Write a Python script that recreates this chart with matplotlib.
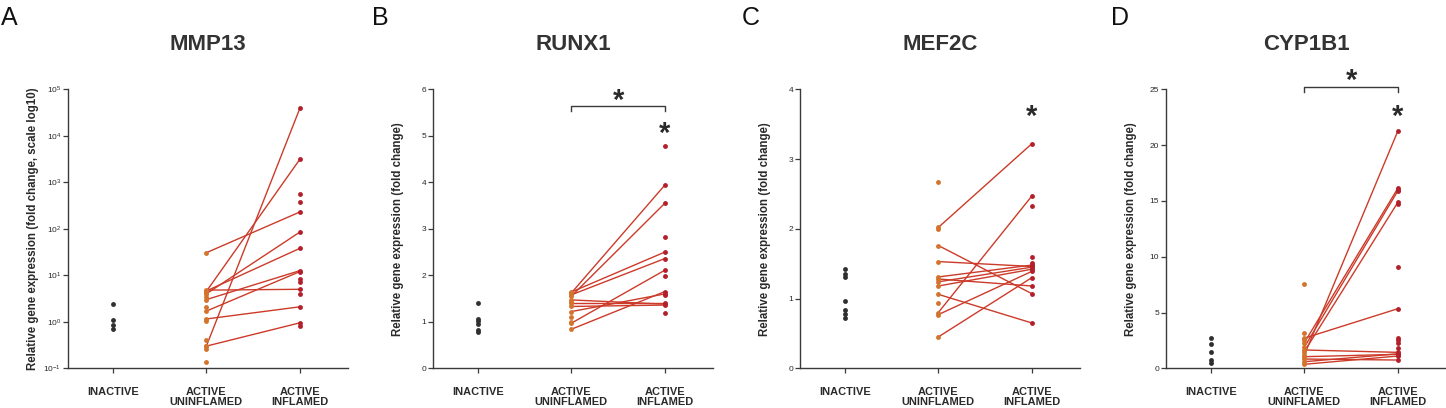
import matplotlib
matplotlib.use("Agg")
import matplotlib.pyplot as plt
from matplotlib.ticker import LogLocator, NullLocator, LogFormatterSciNotation

plt.rcParams['font.family'] = ['Liberation Sans', 'DejaVu Sans']
plt.rcParams['mathtext.default'] = 'regular'

categories = ["INACTIVE", "ACTIVE\nUNINFLAMED", "ACTIVE\nINFLAMED"]
genes = ["MMP13", "RUNX1", "MEF2C", "CYP1B1"]
panel_letters = ["A", "B", "C", "D"]

# ---- MMP13 ----
mmp13_inactive = [2.4, 1.09, 0.85, 0.69]
mmp13_unin_paired = [30.6, 4.5, 4.6, 4.0, 4.8, 3.0, 1.7, 1.15, 0.30, 0.30]
mmp13_infl_paired = [230, 3126, 38, 85, 5.0, 12.6, 12.0, 2.1, 0.95, 39000]
mmp13_unin_only = [4.2, 3.4, 2.1, 1.05, 0.40, 0.26, 0.14]
mmp13_infl_only = [560, 370, 8.2, 7.3, 4.0, 0.83]

# ---- RUNX1 ----
runx1_inactive = [1.40, 1.07, 1.02, 0.95, 0.83, 0.79]
runx1_unin_paired = [1.62, 1.55, 1.64, 1.58, 0.97, 0.84, 1.22, 1.47, 1.40, 1.33]
runx1_infl_paired = [3.94, 3.55, 2.50, 2.36, 2.11, 1.65, 1.60, 1.38, 1.40, 1.36]
runx1_unin_only = [1.11, 0.99, 1.43]
runx1_infl_only = [4.79, 2.83, 1.98, 1.58, 1.18]

# ---- MEF2C ----
mef2c_inactive = [1.42, 1.35, 1.31, 0.97, 0.84, 0.78, 0.72]
mef2c_unin_paired = [2.02, 0.80, 1.76, 1.53, 1.31, 1.28, 1.24, 1.18, 1.06, 0.77, 0.45]
mef2c_infl_paired = [3.22, 2.47, 1.07, 1.46, 1.48, 1.18, 1.45, 1.42, 0.65, 1.39, 1.30]
mef2c_unin_only = [2.67, 2.00, 0.94]
mef2c_infl_only = [2.33, 1.59, 1.51]

# ---- CYP1B1 ----
cyp1b1_inactive = [2.75, 2.15, 1.45, 0.75, 0.50]
cyp1b1_unin_paired = [1.2, 2.3, 1.9, 1.5, 2.7, 1.64, 1.04, 0.59, 0.36, 0.83]
cyp1b1_infl_paired = [21.26, 16.13, 15.9, 14.87, 5.34, 1.43, 1.25, 1.3, 1.10, 0.74]
cyp1b1_unin_only = [7.52, 3.13, 2.54]
cyp1b1_infl_only = [9.05, 2.74, 2.54, 2.29, 1.85, 16.0, 14.75]

ylabels = ["Relative gene expression (fold change, scale log10)",
           "Relative gene expression (fold change)",
           "Relative gene expression (fold change)",
           "Relative gene expression (fold change)"]

datasets = [
    (mmp13_inactive, mmp13_unin_paired, mmp13_infl_paired, mmp13_unin_only, mmp13_infl_only),
    (runx1_inactive, runx1_unin_paired, runx1_infl_paired, runx1_unin_only, runx1_infl_only),
    (mef2c_inactive, mef2c_unin_paired, mef2c_infl_paired, mef2c_unin_only, mef2c_infl_only),
    (cyp1b1_inactive, cyp1b1_unin_paired, cyp1b1_infl_paired, cyp1b1_unin_only, cyp1b1_infl_only),
]

C_INACT = "#2f2f2f"
C_UNIN = "#d4732c"
C_INFL = "#b3202c"
C_LINE = "#cc3b29"
C_AX = "#3a3a3a"
C_TXT = "#2a2a2a"

W, H = 1446, 408
fig = plt.figure(figsize=(W / 100, H / 100), dpi=100)

ax_left_px = [68, 433, 800, 1166]
letter_px = [1, 372, 742, 1111]
ax_top_px, ax_bot_px, ax_w_px = 89.3, 368.3, 280

for i in range(4):
    l = ax_left_px[i] / W
    b = (H - ax_bot_px) / H
    ax = fig.add_axes([l, b, ax_w_px / W, (ax_bot_px - ax_top_px) / H])
    inact, up, ip, uo, io = datasets[i]
    # paired lines
    for u, v in zip(up, ip):
        ax.plot([1, 2], [u, v], color=C_LINE, lw=1.0, zorder=2, solid_capstyle='round')
    ms = 3.5
    ax.plot([0] * len(inact), inact, 'o', color=C_INACT, ms=ms, mew=0, zorder=3)
    ax.plot([1] * (len(up) + len(uo)), list(up) + list(uo), 'o', color=C_UNIN, ms=ms, mew=0, zorder=3)
    ax.plot([2] * (len(ip) + len(io)), list(ip) + list(io), 'o', color=C_INFL, ms=ms, mew=0, zorder=3)

    ax.set_xlim(-0.48, 2.515)
    if i == 0:
        ax.set_yscale('log')
        ax.set_ylim(0.1, 1e5)
        ax.yaxis.set_major_locator(LogLocator(base=10, numticks=10))
        ax.yaxis.set_minor_locator(NullLocator())
        ax.yaxis.set_major_formatter(LogFormatterSciNotation())
    elif i == 1:
        ax.set_ylim(0, 6)
        ax.set_yticks(range(0, 7))
    elif i == 2:
        ax.set_ylim(0, 4)
        ax.set_yticks(range(0, 5))
    else:
        ax.set_ylim(0, 25)
        ax.set_yticks(range(0, 26, 5))

    ax.set_xticks([0, 1, 2])
    ax.set_xticklabels(categories, fontsize=7.9, fontweight='bold', color=C_TXT, linespacing=1.05)
    for s in ['top', 'right']:
        ax.spines[s].set_visible(False)
    for s in ['left', 'bottom']:
        ax.spines[s].set_color(C_AX)
        ax.spines[s].set_linewidth(1.0)
    ax.tick_params(axis='x', length=3.5, width=0.9, color=C_AX, pad=10)
    ax.tick_params(axis='y', length=3.5, width=0.9, color=C_AX, labelsize=6, labelcolor=C_TXT, pad=1.5)
    ax.set_ylabel(ylabels[i], fontsize=8.3, fontweight='bold', color=C_TXT)
    ax.yaxis.set_label_coords(-29 / ax_w_px, 0.5)
    ax.set_title(genes[i], fontsize=16, fontweight='bold', color="#333333", pad=28.5)
    fig.text(letter_px[i] / W, 1 - 25 / H, panel_letters[i], fontsize=18, color="#111111",
             va='baseline', ha='left')

    star_kw = dict(fontsize=21, fontweight='bold', ha='center', va='bottom', color=C_TXT, clip_on=False)
    if i == 1:
        yb, yt = 5.54, 5.65
        ax.plot([1, 1, 2, 2], [yb, yt, yt, yb], color=C_AX, lw=1.0, clip_on=False)
        ax.text(1.5, 5.45, '*', **star_kw)
        ax.text(2, 4.74, '*', **star_kw)
    if i == 2:
        ax.text(2, 3.41, '*', **star_kw)
    if i == 3:
        yb, yt = 24.8, 25.23
        ax.plot([1, 1, 2, 2], [yb, yt, yt, yb], color=C_AX, lw=1.0, clip_on=False)
        ax.text(1.5, 24.5, '*', **star_kw)
        ax.text(2, 21.29, '*', **star_kw)

fig.savefig("out.png", dpi=100)
